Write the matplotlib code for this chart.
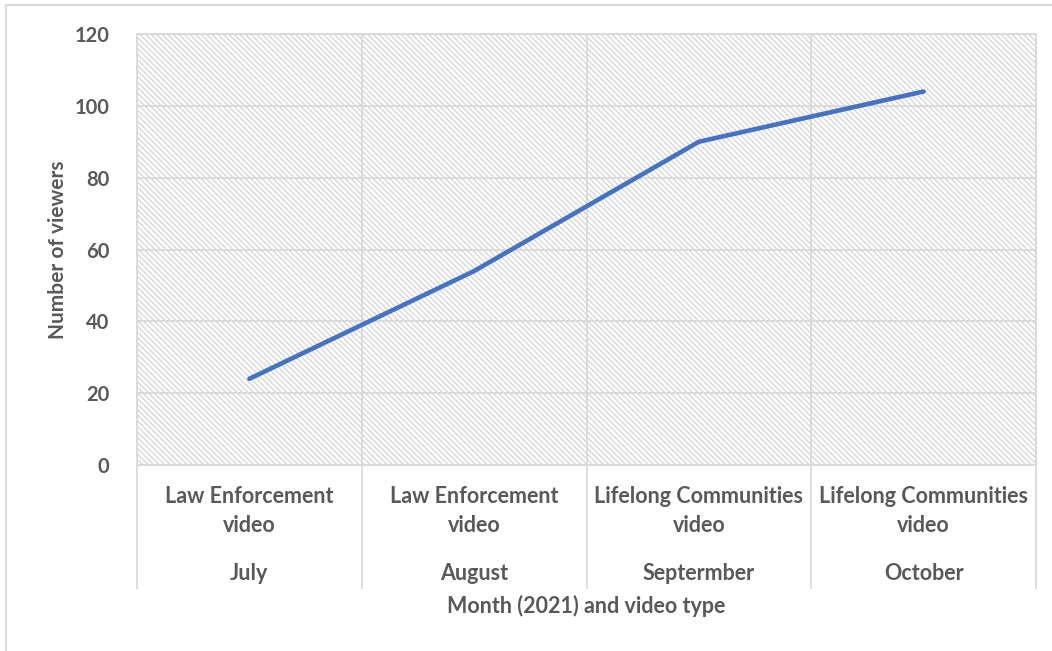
import matplotlib
matplotlib.use("Agg")
import matplotlib.pyplot as plt
import matplotlib.transforms as mtransforms
from matplotlib.patches import Rectangle
from matplotlib.lines import Line2D

# data
video_types = ["Law Enforcement\nvideo", "Law Enforcement\nvideo",
               "Lifelong Communities\nvideo", "Lifelong Communities\nvideo"]
months = ["July", "August", "Septermber", "October"]
viewers = [24, 54, 90, 104]
y_ticks = [0, 20, 40, 60, 80, 100, 120]

text_color = "#595959"
grid_color = "#D9D9D9"
line_color = "#4472C4"

plt.rcParams["font.family"] = ["Lato", "DejaVu Sans"]
plt.rcParams["hatch.linewidth"] = 0.9

fig = plt.figure(figsize=(10.52, 6.51), dpi=100)
ax = fig.add_axes([137 / 1052, 1 - 465 / 651, (1036 - 137) / 1052, (465 - 34) / 651])

x = list(range(len(viewers)))

# hatched plot area background
ax.add_patch(Rectangle((0, 0), 1, 1, transform=ax.transAxes, fill=False,
                       hatch="\\\\\\\\\\\\", edgecolor="#D4D4D4", linewidth=0, zorder=0))

ax.plot(x, viewers, color=line_color, linewidth=3.3, solid_capstyle="round", zorder=3)

ax.set_xlim(-0.5, len(viewers) - 0.5)
ax.set_ylim(0, 120)
ax.set_yticks(y_ticks)
ax.set_yticklabels([str(v) for v in y_ticks], fontsize=14.5, fontweight="bold", color=text_color)
ax.set_xticks([i - 0.5 for i in range(len(viewers) + 1)])
ax.set_xticklabels([])
ax.tick_params(axis="both", length=0)
ax.tick_params(axis="y", pad=20)
ax.grid(True, color=grid_color, linewidth=1.3, zorder=1)
ax.set_axisbelow(True)
for s in ax.spines.values():
    s.set_color(grid_color)
    s.set_linewidth(1.3)

# category labels below the axis (two levels)
blend = mtransforms.blended_transform_factory(ax.transData, ax.transAxes)
for i in range(len(viewers)):
    top, bottom = video_types[i].split("\n")
    ax.text(i, -0.074, top, transform=blend, ha="center", va="center",
            fontsize=15.5, fontweight="bold", color=text_color)
    ax.text(i, -0.141, bottom, transform=blend, ha="center", va="center",
            fontsize=15.5, fontweight="bold", color=text_color)
    ax.text(i, -0.251, months[i], transform=blend, ha="center", va="center",
            fontsize=15.5, fontweight="bold", color=text_color)
for i in range(len(viewers) + 1):
    ax.add_line(Line2D([i - 0.5, i - 0.5], [0, -0.285], transform=blend, color=grid_color,
                       linewidth=1.3, clip_on=False))

ax.text(0.5, -0.328, "Month (2021) and video type", transform=ax.transAxes, ha="center",
        va="center", fontsize=15.5, fontweight="bold", color=text_color)
fig.text(58 / 1052, 1 - 250 / 651, "Number of viewers", rotation=90, ha="center", va="center",
         fontsize=15, fontweight="bold", color=text_color)

# outer chart border (left and top visible in the reference)
fig.add_artist(Line2D([6 / 1052, 6 / 1052], [0, 1 - 5 / 651], transform=fig.transFigure,
                      color="#D9D9D9", linewidth=1.5))
fig.add_artist(Line2D([6 / 1052, 1], [1 - 5 / 651, 1 - 5 / 651], transform=fig.transFigure,
                      color="#D9D9D9", linewidth=1.5))

fig.savefig("out.png", dpi=100)
